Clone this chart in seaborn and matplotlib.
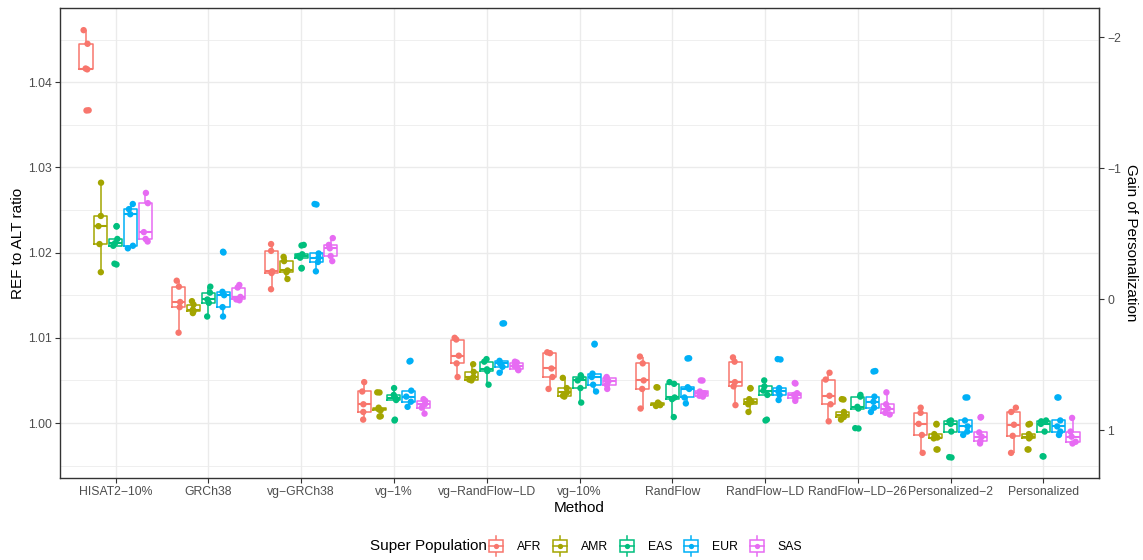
import numpy as np
import pandas as pd
import matplotlib
matplotlib.use("Agg")
import matplotlib.pyplot as plt
from matplotlib.lines import Line2D
from matplotlib.patches import Rectangle
from matplotlib.legend_handler import HandlerBase
import seaborn as sns

# Alignment methods (x axis order)
methods = ["HISAT2−10%", "GRCh38", "vg−GRCh38", "vg−1%", "vg−RandFlow−LD",
           "vg−10%", "RandFlow", "RandFlow−LD", "RandFlow−LD−26",
           "Personalized−2", "Personalized"]
populations = ["AFR", "AMR", "EAS", "EUR", "SAS"]
pop_colors = ["#F8766D", "#A3A500", "#00BF7D", "#00B0F6", "#E76BF3"]

# REF-to-ALT ratio per sample; one list per super population (AFR, AMR, EAS, EUR, SAS)
ratio_hisat2_10 = [[1.0461, 1.0445, 1.0416, 1.0415, 1.0367],
                   [1.0282, 1.0243, 1.0231, 1.0210, 1.0177],
                   [1.0231, 1.0216, 1.0211, 1.0208, 1.0187],
                   [1.0257, 1.0251, 1.0245, 1.0208, 1.0205],
                   [1.0270, 1.0258, 1.0224, 1.0216, 1.0213]]
ratio_grch38 = [[1.0167, 1.0160, 1.0142, 1.0136, 1.0106],
                [1.0143, 1.0139, 1.0133, 1.0131, 1.0129],
                [1.0160, 1.0153, 1.0145, 1.0141, 1.0125],
                [1.0201, 1.0154, 1.0150, 1.0136, 1.0125],
                [1.0162, 1.0159, 1.0148, 1.0145, 1.0144]]
ratio_vg_grch38 = [[1.0210, 1.0202, 1.0178, 1.0176, 1.0157],
                   [1.0195, 1.0190, 1.0179, 1.0177, 1.0169],
                   [1.0209, 1.0198, 1.0196, 1.0194, 1.0182],
                   [1.0257, 1.0199, 1.0194, 1.0189, 1.0178],
                   [1.0217, 1.0209, 1.0205, 1.0196, 1.0190]]
ratio_vg_1 = [[1.0048, 1.0037, 1.0022, 1.0013, 1.0004],
              [1.0036, 1.0018, 1.0016, 1.0015, 1.0008],
              [1.0041, 1.0033, 1.0029, 1.0027, 1.0004],
              [1.0073, 1.0038, 1.0031, 1.0025, 1.0019],
              [1.0028, 1.0026, 1.0022, 1.0018, 1.0011]]
ratio_vg_randflow_ld = [[1.0100, 1.0098, 1.0079, 1.0070, 1.0054],
                        [1.0069, 1.0060, 1.0054, 1.0051, 1.0050],
                        [1.0075, 1.0072, 1.0063, 1.0061, 1.0045],
                        [1.0117, 1.0073, 1.0070, 1.0066, 1.0059],
                        [1.0072, 1.0071, 1.0067, 1.0063, 1.0062]]
ratio_vg_10 = [[1.0083, 1.0082, 1.0064, 1.0054, 1.0040],
               [1.0053, 1.0041, 1.0036, 1.0032, 1.0031],
               [1.0056, 1.0054, 1.0050, 1.0041, 1.0024],
               [1.0093, 1.0058, 1.0054, 1.0045, 1.0037],
               [1.0054, 1.0053, 1.0049, 1.0045, 1.0040]]
ratio_randflow = [[1.0078, 1.0070, 1.0050, 1.0040, 1.0017],
                  [1.0042, 1.0024, 1.0022, 1.0021, 1.0020],
                  [1.0048, 1.0046, 1.0030, 1.0028, 1.0007],
                  [1.0076, 1.0042, 1.0040, 1.0030, 1.0023],
                  [1.0050, 1.0037, 1.0035, 1.0032, 1.0031]]
ratio_randflow_ld = [[1.0077, 1.0072, 1.0048, 1.0043, 1.0021],
                     [1.0041, 1.0028, 1.0025, 1.0022, 1.0013],
                     [1.0050, 1.0043, 1.0038, 1.0033, 1.0004],
                     [1.0075, 1.0041, 1.0037, 1.0033, 1.0027],
                     [1.0047, 1.0035, 1.0033, 1.0029, 1.0026]]
ratio_randflow_ld_26 = [[1.0059, 1.0051, 1.0032, 1.0022, 1.0002],
                        [1.0028, 1.0013, 1.0010, 1.0007, 1.0004],
                        [1.0033, 1.0031, 1.0019, 1.0017, 0.9994],
                        [1.0061, 1.0031, 1.0025, 1.0018, 1.0013],
                        [1.0036, 1.0022, 1.0017, 1.0012, 1.0010]]
ratio_personalized_2 = [[1.0018, 1.0012, 0.9999, 0.9986, 0.9965],
                        [0.9999, 0.9987, 0.9983, 0.9982, 0.9969],
                        [1.0003, 1.0002, 0.9999, 0.9990, 0.9960],
                        [1.0030, 1.0003, 0.9996, 0.9990, 0.9986],
                        [1.0007, 0.9989, 0.9984, 0.9979, 0.9976]]
ratio_personalized = [[1.0018, 1.0013, 0.9998, 0.9985, 0.9965],
                      [0.9999, 0.9987, 0.9984, 0.9982, 0.9969],
                      [1.0003, 1.0002, 0.9999, 0.9990, 0.9961],
                      [1.0030, 1.0003, 0.9996, 0.9990, 0.9986],
                      [1.0006, 0.9990, 0.9984, 0.9978, 0.9976]]

method_values = [ratio_hisat2_10, ratio_grch38, ratio_vg_grch38, ratio_vg_1,
                 ratio_vg_randflow_ld, ratio_vg_10, ratio_randflow,
                 ratio_randflow_ld, ratio_randflow_ld_26,
                 ratio_personalized_2, ratio_personalized]

rows = []
for method, per_pop in zip(methods, method_values):
    for pop, vals in zip(populations, per_pop):
        for v in vals:
            rows.append((method, pop, v))
df = pd.DataFrame(rows, columns=["Method", "Population", "Ratio"])

# Gain of personalization: 0 at the GRCh38 mean, 1 at the Personalized mean
ref_mean = df.loc[df.Method == "GRCh38", "Ratio"].mean()
pers_mean = df.loc[df.Method == "Personalized", "Ratio"].mean()
span = ref_mean - pers_mean


def to_gain(r):
    return (ref_mean - r) / span


def from_gain(g):
    return ref_mean - g * span


class BoxKey(HandlerBase):
    """Legend key drawn as a small boxplot glyph with its data point."""

    def create_artists(self, legend, orig_handle, xdescent, ydescent,
                       width, height, fontsize, trans):
        c = orig_handle.get_color()
        x0 = -xdescent
        cx = x0 + width / 2
        cy = -ydescent + height / 2
        bh, wh = 8.4, 14.4
        whisk = Line2D([cx, cx], [cy - wh / 2, cy + wh / 2], color=c,
                       lw=1.1, transform=trans)
        box = Rectangle((x0, cy - bh / 2), width, bh, facecolor="white",
                        edgecolor=c, lw=1.1, transform=trans)
        med = Line2D([x0, x0 + width], [cy, cy], color=c, lw=1.1,
                     transform=trans)
        dot = Line2D([cx], [cy], marker="o", markersize=3.8,
                     markeredgewidth=0, color=c, linestyle="none",
                     transform=trans)
        return [whisk, box, med, dot]


plt.rcParams["font.family"] = ["Liberation Sans", "DejaVu Sans"]

W, H = 1143, 560
fig = plt.figure(figsize=(W / 100, H / 100), dpi=100)
L, R, T, B = 60, 1099, 8, 478
ax = fig.add_axes([L / W, 1 - B / H, (R - L) / W, (B - T) / H])
ax.set_facecolor("white")

sns.boxplot(data=df, x="Method", y="Ratio", hue="Population",
            order=methods, hue_order=populations, palette=pop_colors,
            fill=False, width=0.8, gap=0.12, linewidth=1.1, whis=1.5,
            showfliers=True, capwidths=0,
            flierprops=dict(marker="o", markersize=4.6, markeredgewidth=0),
            medianprops=dict(linewidth=1.5),
            legend=False, ax=ax, zorder=3)
# outlier markers filled in their box colour
for line in ax.lines:
    if line.get_marker() == "o":
        line.set_markerfacecolor(line.get_markeredgecolor())

np.random.seed(7)
sns.stripplot(data=df, x="Method", y="Ratio", hue="Population",
              order=methods, hue_order=populations, palette=pop_colors,
              dodge=True, jitter=0.15, size=4.6, linewidth=0,
              legend=False, ax=ax, zorder=4)

# axis ranges and grid
ax.set_xlim(-0.6, len(methods) - 0.4)
ax.set_ylim(0.99355, 1.0487)
ax.set_yticks([1.00, 1.01, 1.02, 1.03, 1.04])
ax.set_yticklabels(["1.00", "1.01", "1.02", "1.03", "1.04"])
ax.set_yticks([0.995, 1.005, 1.015, 1.025, 1.035, 1.045], minor=True)
ax.grid(True, which="major", color="#EBEBEB", linewidth=1.0, zorder=0)
ax.grid(True, which="minor", axis="y", color="#EBEBEB", linewidth=0.55, zorder=0)
ax.set_axisbelow(True)
for s in ax.spines.values():
    s.set_color("#333333")
    s.set_linewidth(1.0)
ax.tick_params(axis="both", which="major", length=3.5, width=0.8,
               color="#333333", labelcolor="#4D4D4D", labelsize=8.8, pad=2.5)
ax.tick_params(axis="y", which="minor", length=0)

ax.set_xlabel("Method", fontsize=11, color="black", labelpad=2)
ax.set_ylabel("REF to ALT ratio", fontsize=11, color="black", labelpad=2)

# secondary axis with the personalization gain
sec = ax.secondary_yaxis("right", functions=(to_gain, from_gain))
sec.set_yticks([-2, -1, 0, 1])
sec.tick_params(length=3.5, width=0.8, color="#333333", labelcolor="#4D4D4D",
                labelsize=8.8, pad=2.5)
sec.spines["right"].set_color("#333333")
sec.set_ylabel("Gain of Personalization", fontsize=11, rotation=270,
               labelpad=12, color="black")

# legend keyed by super population
handles = [Line2D([], [], color=c) for c in pop_colors]
fig.text(370 / W, 1 - 546 / H, "Super Population", fontsize=11,
         ha="left", va="center", color="black")
fig.legend(handles, populations, ncol=5, loc="center left",
           bbox_to_anchor=(489 / W, 1 - 547 / H), frameon=False,
           handler_map={Line2D: BoxKey()},
           fontsize=8.8, handlelength=1.15, handletextpad=1.15,
           columnspacing=0.95, borderpad=0, borderaxespad=0)

fig.savefig("out.png", dpi=100, facecolor="white")
